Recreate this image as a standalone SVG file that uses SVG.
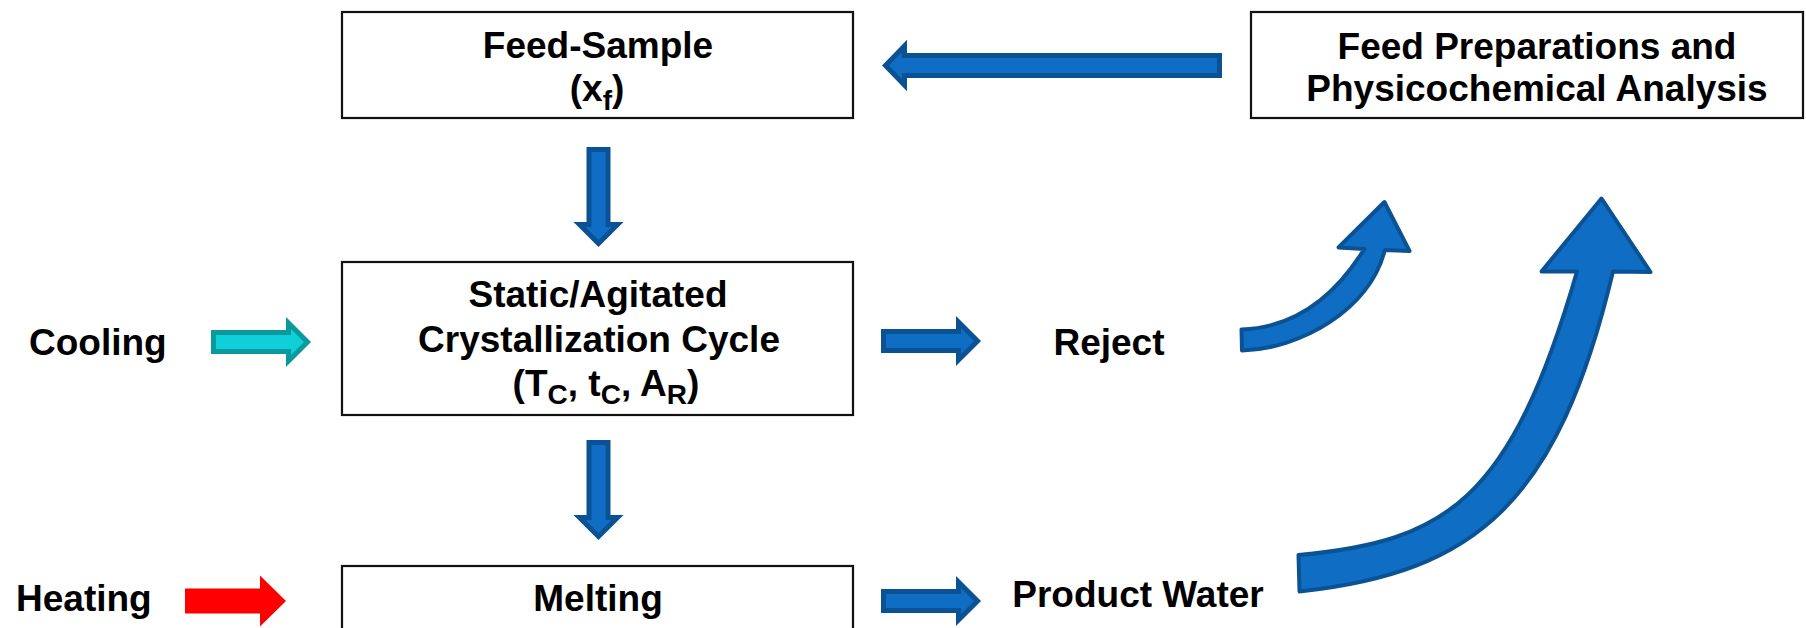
<svg xmlns="http://www.w3.org/2000/svg" width="1806" height="628" viewBox="0 0 1806 628">
  <style>
    .box { fill: #ffffff; stroke: #111111; stroke-width: 2.2; }
    .label { font-family: "Liberation Sans", Arial, sans-serif; font-weight: bold; font-size: 37px; fill: #000000; }
    .mid { text-anchor: middle; }
    .sub { font-size: 28px; }
    .blue { fill: #0f6ec4; stroke: #0a5294; stroke-width: 5; stroke-linejoin: miter; }
    .cyan { fill: #0fd0d8; stroke: #0a9a9e; stroke-width: 5; stroke-linejoin: miter; }
    .red { fill: #ff0000; stroke: none; }
    .curved { fill: #0f6ec4; stroke: #0a5294; stroke-width: 4; stroke-linejoin: round; }
  </style>
  <defs>
    <!-- block arrow pointing right, origin at tail centre, 100 long -->
    <path id="arrow-r" d="M2.5,-9.5 H77.5 V-19 L96.5,0 L77.5,19 V9.5 H2.5 Z"/>
  </defs>

  <g id="connectors">
    <!-- Feed Preparations -> Feed-Sample -->
    <path id="prep-to-sample" class="blue" d="M1219.5,55.5 H904.5 V46 L885.5,65.5 L904.5,85 V75.5 H1219.5 Z"/>
    <!-- Feed-Sample -> Crystallization -->
    <use id="sample-to-cryst" href="#arrow-r" class="blue" transform="translate(598.5,147) rotate(90)"/>
    <!-- Crystallization -> Melting -->
    <use id="cryst-to-melt" href="#arrow-r" class="blue" transform="translate(598.5,440) rotate(90)"/>
    <!-- Crystallization -> Reject -->
    <use id="cryst-to-reject" href="#arrow-r" class="blue" transform="translate(881,341)"/>
    <!-- Melting -> Product Water -->
    <use id="melt-to-product" href="#arrow-r" class="blue" transform="translate(881,601)"/>
    <!-- Cooling input -->
    <use id="cooling-in" href="#arrow-r" class="cyan" transform="translate(211,342)"/>
    <!-- Heating input -->
    <path id="heating-in" class="red" d="M185,588.5 H260 V575.5 L286,601 L260,626.5 V613.5 H185 Z"/>
    <!-- Reject -> Feed Preparations (curved) -->
    <path id="reject-to-prep" class="curved" d="M1241.5,329.5 Q1316,327 1364.3,249 L1338.5,247.5 L1384.4,202 L1409.5,251 L1384.8,250 C1370,310 1300,349 1242,350.5 Z"/>
    <!-- Product Water -> Feed Preparations (curved) -->
    <path id="product-to-prep" class="curved" d="M1298.5,555 C1446.6,541.5 1510.7,500.7 1577,271.5 L1541.5,271.5 L1601.5,198.5 L1650.5,272 L1613,271.5 C1558,502 1476.7,572.5 1299.5,591.5 Z"/>
  </g>

  <g id="feed-sample">
    <rect class="box" x="342" y="12" width="511" height="106"/>
    <text class="label mid" x="598" y="58">Feed-Sample</text>
    <text class="label mid" x="597" y="101">(x<tspan class="sub" dy="9">f</tspan><tspan dy="-9">)</tspan></text>
  </g>

  <g id="feed-preparations">
    <rect class="box" x="1251" y="12" width="552" height="106"/>
    <text class="label mid" x="1537" y="59">Feed Preparations and</text>
    <text class="label mid" x="1537" y="101">Physicochemical Analysis</text>
  </g>

  <g id="crystallization">
    <rect class="box" x="342" y="262" width="511" height="153"/>
    <text class="label mid" x="598" y="307">Static/Agitated</text>
    <text class="label mid" x="599" y="352">Crystallization Cycle</text>
    <text class="label mid" x="606" y="396">(T<tspan class="sub" dy="8">C</tspan><tspan dy="-8">, t</tspan><tspan class="sub" dy="8">C</tspan><tspan dy="-8">, A</tspan><tspan class="sub" dy="8">R</tspan><tspan dy="-8">)</tspan></text>
  </g>

  <g id="melting">
    <rect class="box" x="342" y="566" width="511" height="120"/>
    <text class="label mid" x="598" y="611">Melting</text>
  </g>

  <g id="cooling">
    <text class="label" x="29" y="355">Cooling</text>
  </g>

  <g id="heating">
    <text class="label" x="16" y="611">Heating</text>
  </g>

  <g id="reject">
    <text class="label mid" x="1109" y="355">Reject</text>
  </g>

  <g id="product-water">
    <text class="label mid" x="1138" y="607">Product Water</text>
  </g>
</svg>
